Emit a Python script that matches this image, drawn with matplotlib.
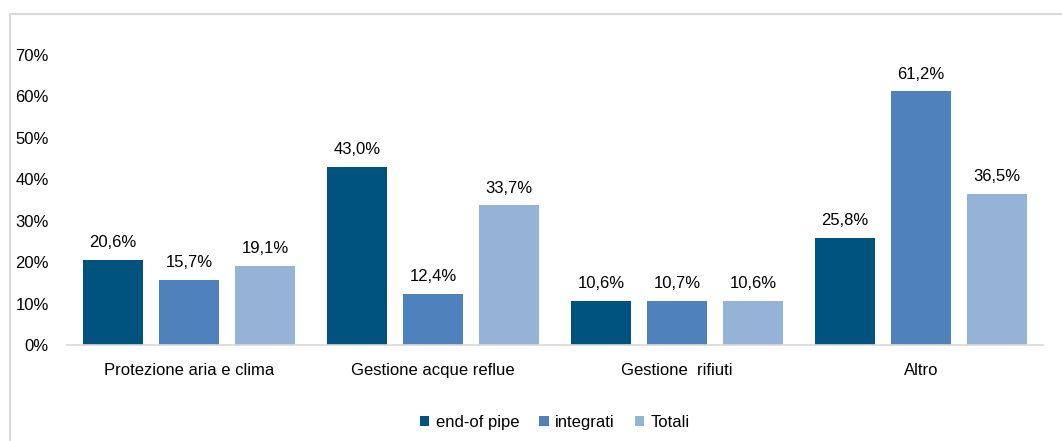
import matplotlib
matplotlib.use("Agg")
import matplotlib.pyplot as plt
from matplotlib.patches import Rectangle
import numpy as np

categories = ["Protezione aria e clima", "Gestione acque reflue", "Gestione  rifiuti", "Altro"]
series_names = ["end-of pipe", "integrati", "Totali"]
end_of_pipe = [20.6, 43.0, 10.6, 25.8]
integrati = [15.7, 12.4, 10.7, 61.2]
totali = [19.1, 33.7, 10.6, 36.5]
colors = ["#00537F", "#4F81BD", "#95B3D7"]
yticks = [0, 10, 20, 30, 40, 50, 60, 70]

FS = 12
plt.rcParams['font.family'] = ['Liberation Sans', 'DejaVu Sans']
fig = plt.figure(figsize=(10.62, 4.41), dpi=100)
fig.patches.append(Rectangle((10/1062, -0.1), 1.2, 1 - 14/441 + 0.1, transform=fig.transFigure,
                             fill=False, edgecolor="#D9D9D9", linewidth=1.5))
ax = fig.add_axes([67/1062, 1 - 345/441, (1043-67)/1062, (345-55)/441])

x = np.arange(len(categories))
w = 0.246
sp = 0.311
for i, (vals, name, c) in enumerate(zip([end_of_pipe, integrati, totali], series_names, colors)):
    pos = x + (i - 1) * sp
    ax.bar(pos, vals, width=w, color=c, label=name)
    for p, v in zip(pos, vals):
        ax.annotate(f"{v:.1f}%".replace(".", ","), (p, v), xytext=(0, 7), textcoords="offset points",
                    ha="center", va="bottom", fontsize=FS, color="#000000")

ax.set_xlim(-0.5, len(categories) - 0.5)
ax.set_ylim(0, 70)
ax.set_yticks(yticks)
ax.set_yticklabels([f"{t}%" for t in yticks], fontsize=FS)
ax.set_xticks(x)
ax.set_xticklabels(categories, fontsize=FS)
ax.tick_params(axis='x', length=0, pad=13)
ax.tick_params(axis='y', length=0, pad=13)
for s in ["top", "right", "left"]:
    ax.spines[s].set_visible(False)
ax.spines["bottom"].set_color("#D9D9D9")
ax.spines["bottom"].set_linewidth(1.2)

ax.legend(loc="upper center", bbox_to_anchor=(0.5, -0.19), ncol=3, frameon=False, fontsize=FS,
          handlelength=0.55, handleheight=0.55, handletextpad=0.4, columnspacing=1.2)

fig.savefig("out.png", dpi=100)
